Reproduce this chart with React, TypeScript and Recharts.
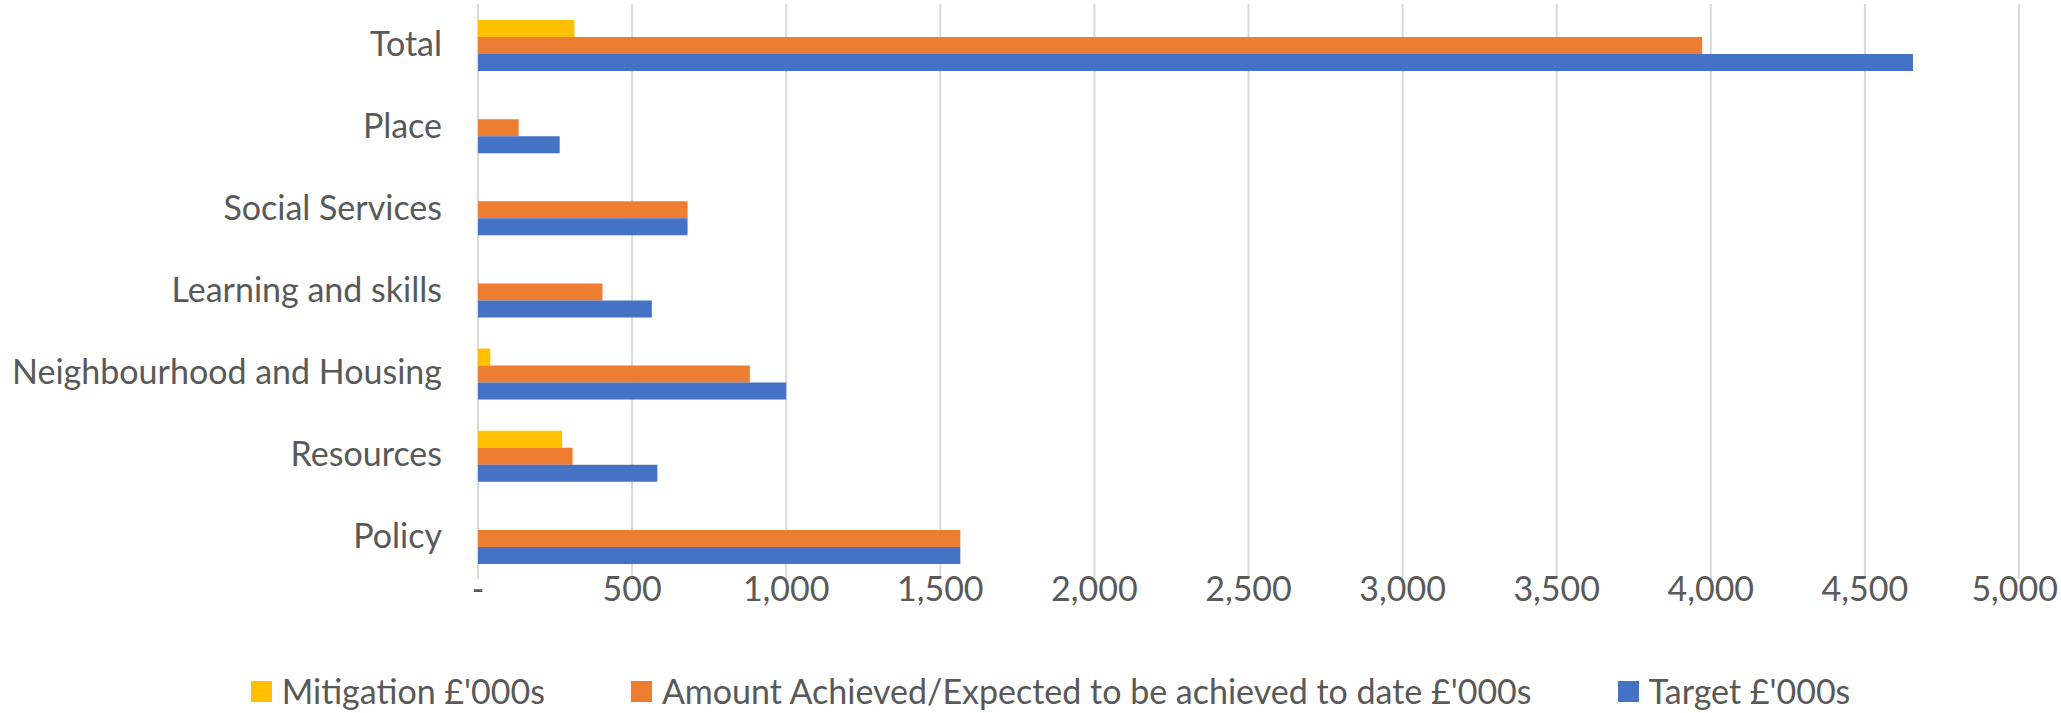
import React from "react";
import {
  Bar,
  XAxis,
  YAxis,
  Legend,
  BarChart,
  CartesianGrid,
} from "recharts";

const categories = [
  "Total",
  "Place",
  "Social Services",
  "Learning and skills",
  "Neighbourhood and Housing",
  "Resources",
  "Policy",
];
const mitigation = [313, 0, 0, 0, 40, 273, 0];
const achieved = [3972, 132, 680, 404, 882, 307, 1565];
const target = [4656, 265, 680, 564, 1000, 582, 1565];
const xTicks = [0, 500, 1000, 1500, 2000, 2500, 3000, 3500, 4000, 4500, 5000];

const seriesNames = {
  mitigation: "Mitigation £'000s",
  achieved: "Amount Achieved/Expected to be achieved to date £'000s",
  target: "Target £'000s",
};

const COLORS = {
  mitigation: "#FFC000",
  achieved: "#ED7D31",
  target: "#4472C4",
};

const FONT = "Lato, 'Open Sans', sans-serif";
const TEXT = "#595959";
const FONT_SIZE = 34;

const formatTick = (v: number) => (v === 0 ? "-" : v.toLocaleString("en-US"));

const CategoryTick = ({ x, y, payload }: any) => (
  <text
    x={x}
    y={y}
    dy={-3}
    textAnchor="end"
    dominantBaseline="central"
    fill={TEXT}
    fontSize={FONT_SIZE}
    fontFamily={FONT}
  >
    {payload.value}
  </text>
);

// last label would run past the right edge, so anchor it at its end
const ValueTick = ({ x, y, payload, index }: any) => {
  const last = index === xTicks.length - 1;
  return (
    <text
      x={last ? 2058 : x}
      y={y}
      dy="0.6em"
      textAnchor={last ? "end" : "middle"}
      fill={TEXT}
      fontSize={FONT_SIZE}
      fontFamily={FONT}
    >
      {formatTick(payload.value)}
    </text>
  );
};

const LegendContent = () => {
  const items = [
    { key: "mitigation", label: seriesNames.mitigation },
    { key: "achieved", label: seriesNames.achieved },
    { key: "target", label: seriesNames.target },
  ] as const;
  return (
    <div
      style={{
        display: "flex",
        justifyContent: "center",
        gap: 86,
        paddingLeft: 40,
        fontFamily: FONT,
        fontSize: FONT_SIZE,
        lineHeight: "40px",
        color: TEXT,
      }}
    >
      {items.map((it) => (
        <div key={it.key} style={{ display: "flex", alignItems: "center" }}>
          <span
            style={{
              width: 21,
              height: 21,
              marginRight: 10,
              backgroundColor: COLORS[it.key],
              display: "inline-block",
            }}
          />
          <span>{it.label}</span>
        </div>
      ))}
    </div>
  );
};

export default function App() {
  const data = categories.map((name, i) => ({
    name,
    mitigation: mitigation[i],
    achieved: achieved[i],
    target: target[i],
  }));

  return (
    <div style={{ position: "absolute", left: 0, top: 0, background: "#fff" }}>
      <BarChart
        width={2061}
        height={713}
        data={data}
        layout="vertical"
        margin={{ top: 4, right: 42, left: 0, bottom: 64 }}
        barGap={0}
        barCategoryGap="19.5%"
      >
        <CartesianGrid
          horizontal={false}
          stroke="#D9D9D9"
          strokeWidth={2}
        />
        <XAxis
          type="number"
          domain={[0, 5000]}
          ticks={xTicks}
          axisLine={false}
          tickLine={false}
          tickSize={0}
          tickMargin={2}
          height={70}
          interval={0}
          tick={<ValueTick />}
        />
        <YAxis
          type="category"
          dataKey="name"
          width={478}
          axisLine={false}
          tickLine={false}
          tickSize={0}
          tickMargin={36}
          interval={0}
          tick={<CategoryTick />}
        />
        <Legend
          layout="horizontal"
          verticalAlign="middle"
          align="center"
          content={<LegendContent />}
          wrapperStyle={{ top: 671, left: 0, width: 2061 }}
        />
        <Bar
          dataKey="mitigation"
          name={seriesNames.mitigation}
          fill={COLORS.mitigation}
          isAnimationActive={false}
        />
        <Bar
          dataKey="achieved"
          name={seriesNames.achieved}
          fill={COLORS.achieved}
          isAnimationActive={false}
        />
        <Bar
          dataKey="target"
          name={seriesNames.target}
          fill={COLORS.target}
          isAnimationActive={false}
        />
      </BarChart>
    </div>
  );
}
